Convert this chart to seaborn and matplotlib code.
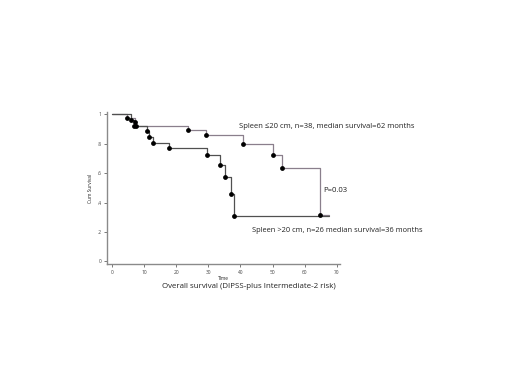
import pandas as pd
import matplotlib.pyplot as plt
import seaborn as sns

# Kaplan-Meier steps
small_time = [0, 4.7, 7.2, 7.6, 23.7, 29.2, 40.8, 50.2, 52.8, 64.9, 67.5]
small_surv = [1, 0.974, 0.947, 0.921, 0.893, 0.862, 0.796, 0.721, 0.633, 0.318, 0.318]
large_time = [0, 5.9, 6.8, 10.9, 11.6, 12.7, 17.9, 29.5, 33.6, 35.2, 37.2, 38.0, 67.5]
large_surv = [1, 0.962, 0.923, 0.885, 0.846, 0.808, 0.769, 0.721, 0.658, 0.576, 0.46, 0.308, 0.308]
x_ticks = [0, 10, 20, 30, 40, 50, 60, 70]
y_ticks = [0, 0.2, 0.4, 0.6, 0.8, 1.0]
y_tick_labels = ['0', '.2', '.4', '.6', '.8', '1']


def generate_km_plot():
    sns.set_style("ticks")
    plt.rcParams['font.family'] = ['Open Sans', 'DejaVu Sans']

    small = pd.DataFrame({'Time': small_time, 'Surv': small_surv})
    large = pd.DataFrame({'Time': large_time, 'Surv': large_surv})

    fig = plt.figure(figsize=(5.2, 3.9), dpi=100)
    ax = fig.add_axes([0.206, 0.322, 0.448, 0.392])

    sns.lineplot(data=small, x='Time', y='Surv', ax=ax, drawstyle='steps-post',
                 color='#8a7f8c', linewidth=0.9, estimator=None, sort=False)
    sns.lineplot(data=large, x='Time', y='Surv', ax=ax, drawstyle='steps-post',
                 color='#505050', linewidth=0.9, estimator=None, sort=False)
    # event markers (skip start and end points)
    sns.scatterplot(data=small.iloc[1:-1], x='Time', y='Surv', ax=ax,
                    color='black', s=12, linewidth=0, zorder=5)
    sns.scatterplot(data=large.iloc[1:-1], x='Time', y='Surv', ax=ax,
                    color='black', s=12, linewidth=0, zorder=5)

    ax.set_xlim(-1.5, 71)
    ax.set_ylim(-0.02, 1.02)
    ax.set_xticks(x_ticks)
    ax.set_yticks(y_ticks)
    ax.set_yticklabels(y_tick_labels)
    ax.tick_params(labelsize=3.5, length=2, width=0.5, colors='#444444', pad=2)
    ax.set_xlabel('Time', fontsize=3.5, labelpad=1)
    ax.set_ylabel('Cum Survival', fontsize=3.5, labelpad=3)
    for side in ['top', 'right']:
        ax.spines[side].set_visible(False)
    for side in ['left', 'bottom']:
        ax.spines[side].set_color('#8a8a8a')
        ax.spines[side].set_linewidth(1.0)

    fig.text(239 / 520, 1 - 126 / 390, 'Spleen \u226420 cm, n=38, median survival=62 months',
             fontsize=5.5, va='center', ha='left', color='#222222')
    fig.text(252 / 520, 1 - 231 / 390, 'Spleen >20 cm, n=26 median survival=36 months',
             fontsize=5.4, va='center', ha='left', color='#222222')
    fig.text(323 / 520, 1 - 190 / 390, 'P=0.03', fontsize=5.6, va='center',
             ha='left', color='#222222')
    fig.text(249 / 520, 1 - 286 / 390, 'Overall survival (DIPSS-plus Intermediate-2 risk)',
             fontsize=5.7, va='center', ha='center', color='#222222')

    fig.savefig('out.png', dpi=100)
    plt.close(fig)


if __name__ == "__main__":
    generate_km_plot()
